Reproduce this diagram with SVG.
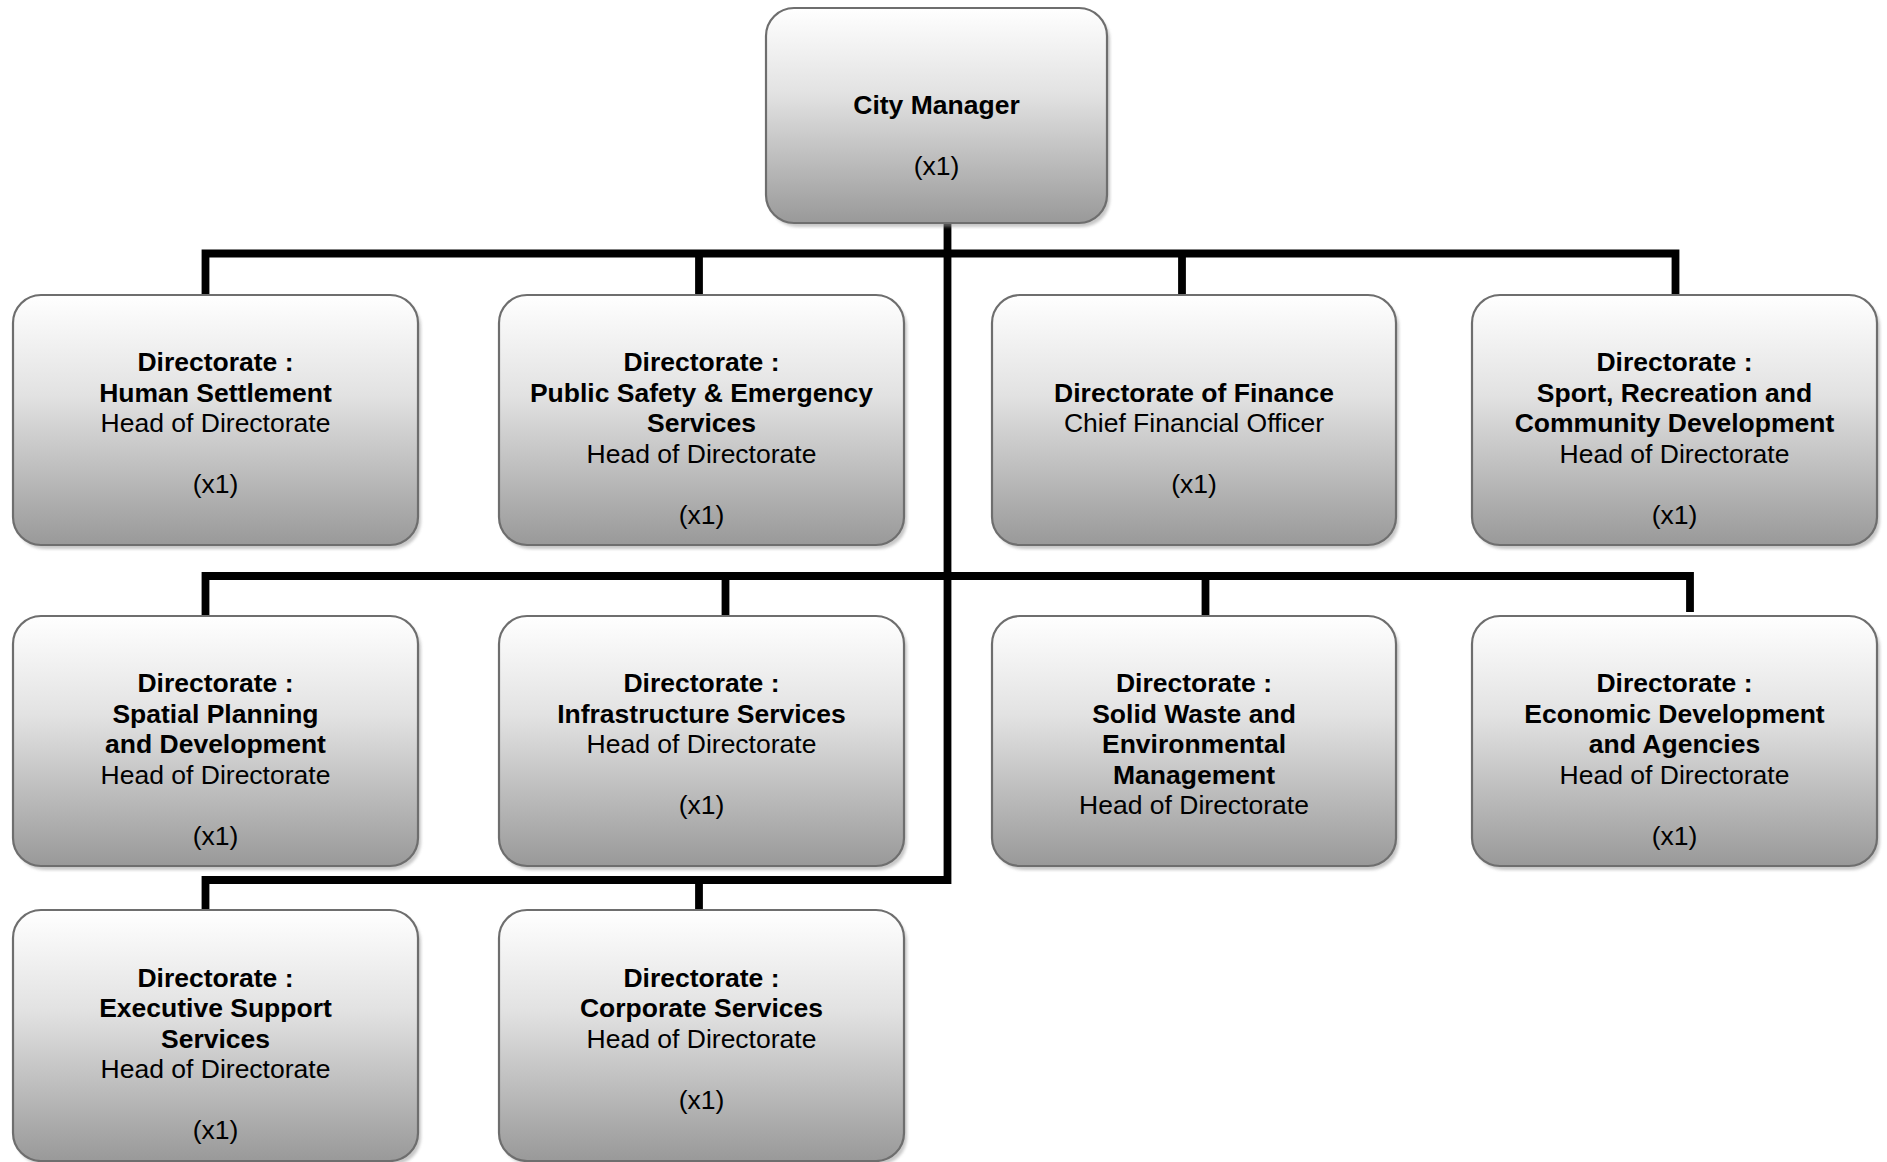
<svg xmlns="http://www.w3.org/2000/svg" width="1887" height="1162" viewBox="0 0 1887 1162">
<defs>
<linearGradient id="g" x1="0" y1="0" x2="0" y2="1">
<stop offset="0" stop-color="#ffffff"/>
<stop offset="0.4" stop-color="#e2e2e2"/>
<stop offset="1" stop-color="#999999"/>
</linearGradient>
<filter id="sh" x="-5%" y="-5%" width="115%" height="115%">
<feGaussianBlur stdDeviation="1.5"/>
</filter>
</defs>
<style>
.shadow{fill:#9a9a9a;opacity:0.55;filter:url(#sh)}
.box{fill:url(#g);stroke:#6e6e6e;stroke-width:2.2}
text{font-family:"Liberation Sans",Arial,sans-serif;font-size:26.5px;fill:#000;text-anchor:middle}
.b{font-weight:bold}
.conn{fill:none;stroke:#000;stroke-width:7.8;stroke-linejoin:miter;stroke-linecap:butt}
</style>
<g id="connectors">
<path class="conn" d="M205.5 295 V253.5 H1675.5 V295"/>
<path class="conn" d="M699 253.5 V295"/>
<path class="conn" d="M1182 253.5 V295"/>
<path class="conn" d="M947.5 223 V880 H205.5 V910"/>
<path class="conn" d="M699 880 V910"/>
<path class="conn" d="M205.5 616 V576 H1690 V612"/>
<path class="conn" d="M725.5 576 V616"/>
<path class="conn" d="M1205.5 576 V616"/>
</g>
<g id="city-manager">
<rect class="shadow" x="769" y="12" width="341" height="215" rx="28"/>
<rect class="box" x="766" y="8" width="341" height="215" rx="28"/>
<text x="936.5" y="113.5" class="b">City Manager</text>
<text x="936.5" y="175">(x1)</text>
</g>
<g id="human-settlement">
<rect class="shadow" x="16" y="299" width="405" height="250" rx="28"/>
<rect class="box" x="13" y="295" width="405" height="250" rx="28"/>
<text x="215.5" y="371" class="b">Directorate :</text>
<text x="215.5" y="401.5" class="b">Human Settlement</text>
<text x="215.5" y="432">Head of Directorate</text>
<text x="215.5" y="493">(x1)</text>
</g>
<g id="public-safety">
<rect class="shadow" x="502" y="299" width="405" height="250" rx="28"/>
<rect class="box" x="499" y="295" width="405" height="250" rx="28"/>
<text x="701.5" y="371" class="b">Directorate :</text>
<text x="701.5" y="401.5" class="b">Public Safety &amp; Emergency</text>
<text x="701.5" y="432" class="b">Services</text>
<text x="701.5" y="462.5">Head of Directorate</text>
<text x="701.5" y="523.5">(x1)</text>
</g>
<g id="finance">
<rect class="shadow" x="995" y="299" width="404" height="250" rx="28"/>
<rect class="box" x="992" y="295" width="404" height="250" rx="28"/>
<text x="1194" y="401.5" class="b">Directorate of Finance</text>
<text x="1194" y="432">Chief Financial Officer</text>
<text x="1194" y="493">(x1)</text>
</g>
<g id="sport-recreation">
<rect class="shadow" x="1475" y="299" width="405" height="250" rx="28"/>
<rect class="box" x="1472" y="295" width="405" height="250" rx="28"/>
<text x="1674.5" y="371" class="b">Directorate :</text>
<text x="1674.5" y="401.5" class="b">Sport, Recreation and</text>
<text x="1674.5" y="432" class="b">Community Development</text>
<text x="1674.5" y="462.5">Head of Directorate</text>
<text x="1674.5" y="523.5">(x1)</text>
</g>
<g id="spatial-planning">
<rect class="shadow" x="16" y="620" width="405" height="250" rx="28"/>
<rect class="box" x="13" y="616" width="405" height="250" rx="28"/>
<text x="215.5" y="692" class="b">Directorate :</text>
<text x="215.5" y="722.5" class="b">Spatial Planning</text>
<text x="215.5" y="753" class="b">and Development</text>
<text x="215.5" y="783.5">Head of Directorate</text>
<text x="215.5" y="844.5">(x1)</text>
</g>
<g id="infrastructure">
<rect class="shadow" x="502" y="620" width="405" height="250" rx="28"/>
<rect class="box" x="499" y="616" width="405" height="250" rx="28"/>
<text x="701.5" y="692" class="b">Directorate :</text>
<text x="701.5" y="722.5" class="b">Infrastructure Services</text>
<text x="701.5" y="753">Head of Directorate</text>
<text x="701.5" y="814">(x1)</text>
</g>
<g id="solid-waste">
<rect class="shadow" x="995" y="620" width="404" height="250" rx="28"/>
<rect class="box" x="992" y="616" width="404" height="250" rx="28"/>
<text x="1194" y="692" class="b">Directorate :</text>
<text x="1194" y="722.5" class="b">Solid Waste and</text>
<text x="1194" y="753" class="b">Environmental</text>
<text x="1194" y="783.5" class="b">Management</text>
<text x="1194" y="814">Head of Directorate</text>
</g>
<g id="economic-development">
<rect class="shadow" x="1475" y="620" width="405" height="250" rx="28"/>
<rect class="box" x="1472" y="616" width="405" height="250" rx="28"/>
<text x="1674.5" y="692" class="b">Directorate :</text>
<text x="1674.5" y="722.5" class="b">Economic Development</text>
<text x="1674.5" y="753" class="b">and Agencies</text>
<text x="1674.5" y="783.5">Head of Directorate</text>
<text x="1674.5" y="844.5">(x1)</text>
</g>
<g id="executive-support">
<rect class="shadow" x="16" y="914" width="405" height="251" rx="28"/>
<rect class="box" x="13" y="910" width="405" height="251" rx="28"/>
<text x="215.5" y="986.5" class="b">Directorate :</text>
<text x="215.5" y="1017" class="b">Executive Support</text>
<text x="215.5" y="1047.5" class="b">Services</text>
<text x="215.5" y="1078">Head of Directorate</text>
<text x="215.5" y="1138.5">(x1)</text>
</g>
<g id="corporate-services">
<rect class="shadow" x="502" y="914" width="405" height="251" rx="28"/>
<rect class="box" x="499" y="910" width="405" height="251" rx="28"/>
<text x="701.5" y="986.5" class="b">Directorate :</text>
<text x="701.5" y="1017" class="b">Corporate Services</text>
<text x="701.5" y="1047.5">Head of Directorate</text>
<text x="701.5" y="1108.5">(x1)</text>
</g>
</svg>
